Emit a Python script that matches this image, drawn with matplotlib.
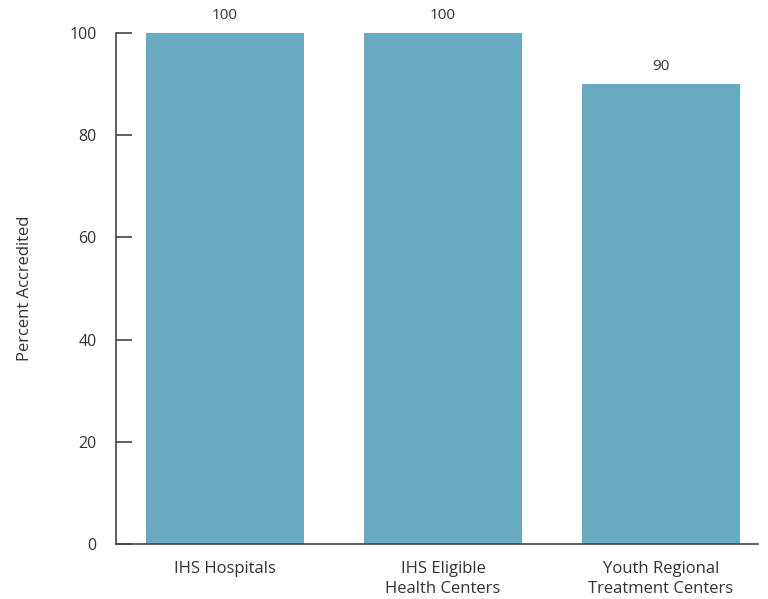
import matplotlib
matplotlib.use("Agg")
import matplotlib.pyplot as plt

categories = ["IHS Hospitals", "IHS Eligible\nHealth Centers", "Youth Regional\nTreatment Centers"]
values = [100, 100, 90]
y_ticks = [0, 20, 40, 60, 80, 100]

plt.rcParams['font.family'] = ['Open Sans', 'DejaVu Sans']
text_color = '#333333'
bar_color = '#69aac3'

fig = plt.figure(figsize=(7.68, 5.99), dpi=100)
ax = fig.add_axes([0.151, 0.0918, 0.836, 0.853])

x = range(len(categories))
bars = ax.bar(x, values, width=0.725, color=bar_color)

for xi, v in zip(x, values):
    ax.annotate(str(v), (xi, v), xytext=(0, 7), textcoords='offset points',
                ha='center', va='bottom', fontsize=11, color=text_color)

ax.set_xlim(-0.5, 2.445)
ax.set_ylim(0, 100)
ax.set_yticks(y_ticks)
ax.set_xticks(list(x))
ax.set_xticklabels(categories, fontsize=12, color=text_color, linespacing=1.35)
ax.tick_params(axis='x', length=0, pad=12)
ax.tick_params(axis='y', direction='in', length=11.5, width=1.2, color='#444444',
               labelsize=11.5, labelcolor=text_color, pad=14)
ax.set_ylabel('Percent Accredited', fontsize=12, color=text_color, labelpad=26)

for s in ['top', 'right']:
    ax.spines[s].set_visible(False)
for s in ['left', 'bottom']:
    ax.spines[s].set_color('#444444')
    ax.spines[s].set_linewidth(1.2)

fig.savefig('out.png', dpi=100)
